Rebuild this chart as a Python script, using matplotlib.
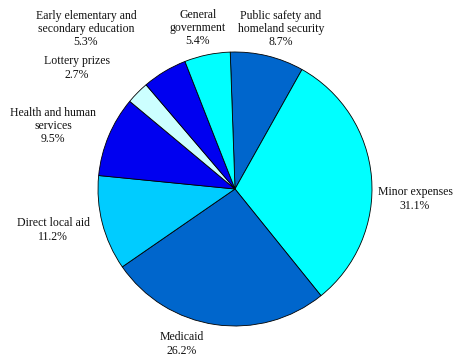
import matplotlib
matplotlib.use("Agg")
import matplotlib.pyplot as plt

# Spending categories, clockwise from the top of the pie
categories = [
    "Public safety and\nhomeland security",
    "Minor expenses",
    "Medicaid",
    "Direct local aid",
    "Health and human\nservices",
    "Lottery prizes",
    "Early elementary and\nsecondary education",
    "General\ngovernment",
]
shares = [8.7, 31.1, 26.2, 11.2, 9.5, 2.7, 5.3, 5.4]

colors = ["#0066CC", "#00FFFF", "#0066CC", "#00CCFF",
          "#0000F0", "#CCFFFF", "#0000F0", "#00FFFF"]

# Label anchor points in pixel space (x from left, y from top)
label_pos = [(281, 29), (415, 199), (182, 344), (53, 230),
             (53, 126), (77, 68), (86, 29), (198, 28)]

W, H = 454, 356
fig = plt.figure(figsize=(W / 100, H / 100), dpi=100)
ax = fig.add_axes([0, 0, 1, 1])

ax.pie(shares, colors=colors, startangle=92, counterclock=False,
       center=(235, H - 189), radius=137,
       wedgeprops=dict(edgecolor="black", linewidth=0.6))
ax.set_xlim(0, W)
ax.set_ylim(0, H)
ax.set_aspect("equal")
ax.axis("off")

for name, val, (x, y) in zip(categories, shares, label_pos):
    ax.text(x, H - y, f"{name}\n{val:.1f}%", ha="center", va="center",
            fontsize=8.5, family=["Liberation Serif", "DejaVu Serif"],
            linespacing=1.15, color="#111111")

fig.savefig("out.png", dpi=100)
